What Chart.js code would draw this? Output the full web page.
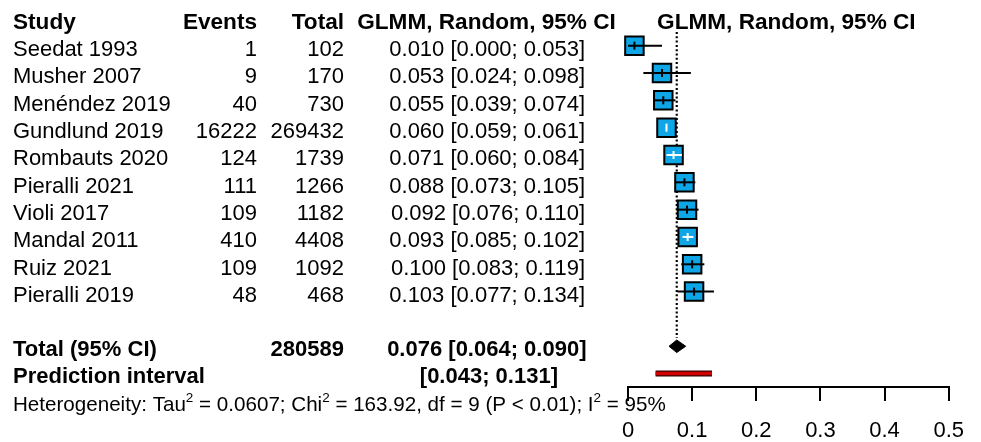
<!DOCTYPE html>
<html><head><meta charset="utf-8">
<script src="https://cdn.jsdelivr.net/npm/chart.js@4"></script>
<style>html,body{margin:0;padding:0;background:#fff}canvas{display:block}</style>
</head><body>
<canvas id="c" width="981" height="442"></canvas>
<script>
// ---------- data ----------
const studies = ["Seedat 1993","Musher 2007","Menéndez 2019","Gundlund 2019","Rombauts 2020","Pieralli 2021","Violi 2017","Mandal 2011","Ruiz 2021","Pieralli 2019"];
const events  = [1, 9, 40, 16222, 124, 111, 109, 410, 109, 48];
const totals  = [102, 170, 730, 269432, 1739, 1266, 1182, 4408, 1092, 468];
const est     = [0.010, 0.053, 0.055, 0.060, 0.071, 0.088, 0.092, 0.093, 0.100, 0.103];
const lower   = [0.000, 0.024, 0.039, 0.059, 0.060, 0.073, 0.076, 0.085, 0.083, 0.077];
const upper   = [0.053, 0.098, 0.074, 0.061, 0.084, 0.105, 0.110, 0.102, 0.119, 0.134];
const pooledEst = 0.076, pooledLower = 0.064, pooledUpper = 0.090;
const predLower = 0.043, predUpper = 0.131;
const totalN = 280589;
const hetTau2 = "0.0607", hetChi2 = "163.92", hetDf = "9", hetP = "< 0.01", hetI2 = "95%";
const xTicks = [0, 0.1, 0.2, 0.3, 0.4, 0.5];
const xTickLabels = ["0", "0.1", "0.2", "0.3", "0.4", "0.5"];
const headers = ["Study", "Events", "Total", "GLMM, Random, 95% CI"];

// ---------- layout helpers ----------
const FONT = '"Liberation Sans", Arial, sans-serif';
const nS = studies.length;
const rowOf = i => i + 1;
const totalRow = nS + 2;
const predRow = nS + 3;
const BOX = 18.5;
const fmt = v => v.toFixed(3);

function ciColor(i, chart) {
  const xs = chart.scales.x;
  if (!xs) return '#000';
  const c = xs.getPixelForValue(est[i]);
  const l = xs.getPixelForValue(lower[i]);
  const h = xs.getPixelForValue(upper[i]);
  const half = BOX / 2 + 0.5;
  return (c - l <= half && h - c <= half) ? '#fff' : '#000';
}

const ds = [];
// dotted reference line at pooled estimate
ds.push({ data: [{x: pooledEst, y: 0.5}, {x: pooledEst, y: totalRow - 0.3}], showLine: true,
  borderColor: '#000', borderWidth: 2.2, borderDash: [2, 2.3], pointRadius: 0, order: 10, clip: false });
// squares
ds.push({ data: est.map((v, i) => ({x: v, y: rowOf(i)})), showLine: false,
  pointStyle: 'rect', pointRadius: BOX / Math.SQRT2, pointBackgroundColor: '#0ea6e6',
  pointBorderColor: '#000', pointBorderWidth: 2, order: 5, clip: false });
// CI lines
est.forEach((v, i) => {
  ds.push({ data: [{x: lower[i], y: rowOf(i)}, {x: upper[i], y: rowOf(i)}], showLine: true,
    pointRadius: 0, borderWidth: 2, borderColor: ctx => ciColor(i, ctx.chart), order: 3, clip: false });
});
// tick at estimate
ds.push({ data: est.map((v, i) => ({x: v, y: rowOf(i)})), showLine: false,
  pointStyle: 'line', pointRotation: 90, pointRadius: 4, pointBorderWidth: 2,
  pointBorderColor: ctx => ciColor(ctx.dataIndex, ctx.chart), order: 2, clip: false });
// diamond
ds.push({ data: [{x: pooledLower, y: totalRow}, {x: pooledEst, y: totalRow - 0.23}, {x: pooledUpper, y: totalRow},
                 {x: pooledEst, y: totalRow + 0.23}, {x: pooledLower, y: totalRow}],
  showLine: true, fill: 'shape', backgroundColor: '#000', borderColor: '#000', borderWidth: 1,
  pointRadius: 0, order: 1, clip: false });
// prediction interval bar
ds.push({ data: [{x: predLower, y: predRow}, {x: predUpper, y: predRow}], showLine: true,
  borderColor: '#3a0000', borderWidth: 6, borderCapStyle: 'butt', pointRadius: 0, order: 1, clip: false });
ds.push({ data: [{x: predLower, y: predRow}, {x: predUpper, y: predRow}], showLine: true,
  borderColor: '#d10000', borderWidth: 3.5, borderCapStyle: 'butt', pointRadius: 0, order: 0, clip: false });

const textPlugin = {
  id: 'forestText',
  afterDraw(chart) {
    const ctx = chart.ctx, ys = chart.scales.y, ca = chart.chartArea;
    const yb = r => ys.getPixelForValue(r) + 10.5;
    const REG = '22px ' + FONT, BOLD = 'bold 22px ' + FONT, HEAD = 'bold 22.6px ' + FONT;
    const t = (s, x, y, align, font) => { ctx.font = font; ctx.textAlign = align; ctx.textBaseline = 'alphabetic'; ctx.fillText(s, x, y); };
    ctx.save();
    ctx.fillStyle = '#000';
    const xStudy = 13, xEvents = 257, xTotal = 344, xVal = 585, xValC = 486.5;
    // headers
    t(headers[0], xStudy, yb(0), 'left', HEAD);
    t(headers[1], xEvents, yb(0), 'right', HEAD);
    t(headers[2], xTotal, yb(0), 'right', HEAD);
    t(headers[3], xValC, yb(0), 'center', HEAD);
    t(headers[3], (ca.left + ca.right) / 2 - 2, yb(0), 'center', HEAD);
    // rows
    studies.forEach((s, i) => {
      const y = yb(rowOf(i));
      t(s, xStudy, y, 'left', REG);
      t(String(events[i]), xEvents, y, 'right', REG);
      t(String(totals[i]), xTotal, y, 'right', REG);
      t(fmt(est[i]) + ' [' + fmt(lower[i]) + '; ' + fmt(upper[i]) + ']', xVal, y, 'right', REG);
    });
    // total
    t('Total (95% CI)', xStudy, yb(totalRow) - 0.5, 'left', BOLD);
    t(String(totalN), xTotal, yb(totalRow) - 0.5, 'right', BOLD);
    t(fmt(pooledEst) + ' [' + fmt(pooledLower) + '; ' + fmt(pooledUpper) + ']', xVal + 1.5, yb(totalRow) - 0.5, 'right', BOLD);
    // prediction
    t('Prediction interval', xStudy, yb(predRow) - 1, 'left', BOLD);
    t('[' + fmt(predLower) + '; ' + fmt(predUpper) + ']', 558, yb(predRow) - 1, 'right', BOLD);
    // heterogeneity
    const segs = [['Heterogeneity: Tau', 0], ['2', 1], [' = ' + hetTau2 + '; Chi', 0], ['2', 1],
                  [' = ' + hetChi2 + ', df = ' + hetDf + ' (P ' + hetP + '); I', 0], ['2', 1], [' = ' + hetI2, 0]];
    let x = xStudy; const hy = 411;
    ctx.textAlign = 'left'; ctx.textBaseline = 'alphabetic';
    segs.forEach(([s, sup]) => {
      ctx.font = sup ? '13.5px ' + FONT : '20.6px ' + FONT;
      ctx.fillText(s, x, sup ? hy - 9 : hy);
      x += ctx.measureText(s).width;
    });
    ctx.restore();
  }
};

new Chart(document.getElementById('c'), {
  type: 'scatter',
  data: { datasets: ds },
  options: {
    responsive: false,
    animation: false,
    events: [],
    layout: { padding: { left: 628, right: 30, top: 32, bottom: 0 } },
    plugins: { legend: { display: false }, tooltip: { enabled: false }, title: { display: false } },
    scales: {
      x: {
        type: 'linear', position: 'bottom', min: xTicks[0], max: xTicks[xTicks.length - 1],
        afterBuildTicks: s => { s.ticks = xTicks.map(v => ({ value: v })); },
        afterFit: s => { s.height = 55; },
        grid: { drawOnChartArea: false, drawTicks: true, tickLength: 14, color: '#000', lineWidth: 2 },
        border: { display: true, color: '#000', width: 2 },
        ticks: { padding: 17, color: '#000', font: { family: FONT, size: 22 },
                 callback: (v, idx) => xTickLabels[idx] }
      },
      y: { type: 'linear', reverse: true, display: false, min: 0.5, max: predRow + 0.49 }
    }
  },
  plugins: [textPlugin]
});
</script>
</body></html>
